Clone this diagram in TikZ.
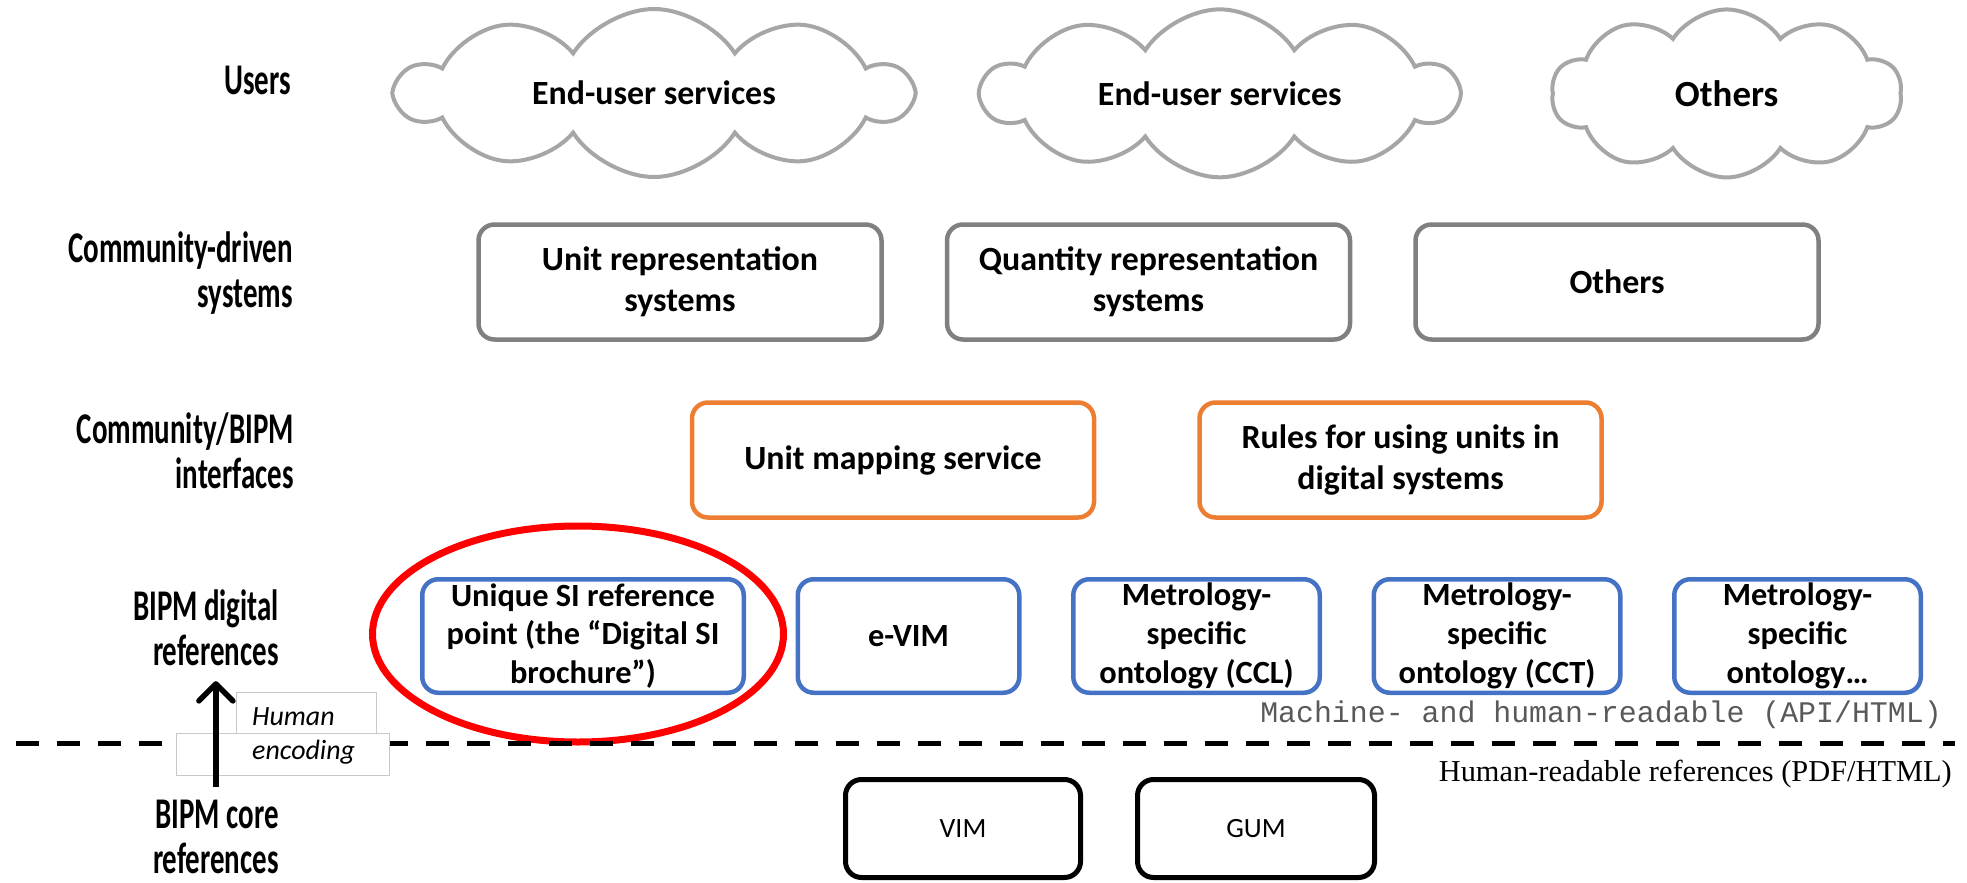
\documentclass[tikz,border=0pt]{standalone}
\usepackage{fontspec}
\setmainfont{Carlito}
\newfontfamily\tierfont[FakeStretch=0.66]{Carlito}
\newfontfamily\readfont{Liberation Serif}
\newfontfamily\codefont{Liberation Mono}
\usetikzlibrary{shapes.geometric, shapes.symbols, arrows.meta, positioning}

\definecolor{cloudgray}{RGB}{166,166,166}
\definecolor{sysgray}{RGB}{128,128,128}
\definecolor{ifaceorange}{RGB}{237,125,49}
\definecolor{refblue}{RGB}{68,114,196}
\definecolor{notegray}{RGB}{200,200,200}
\definecolor{codegray}{RGB}{89,89,89}

\begin{document}
\begin{tikzpicture}[
    x=1bp, y=-1bp,
    tier/.style={anchor=east, align=right, inner sep=0pt, font=\tierfont\bfseries\fontsize{44}{45}\selectfont},
    userscloud/.style={cloud, cloud puffs=10, cloud puff arc=115, cloud ignores aspect, draw=cloudgray, line width=4bp, minimum height=168bp, font=\bfseries\fontsize{34}{41}\selectfont},
    sysbox/.style={rectangle, rounded corners=16bp, draw=sysgray, line width=4.5bp, minimum width=403bp, minimum height=115bp, align=center, font=\bfseries\fontsize{34}{41.5}\selectfont},
    ifbox/.style={sysbox, draw=ifaceorange, minimum width=402bp},
    refbox/.style={sysbox, draw=refblue, minimum width=246.5bp, minimum height=113.5bp, font=\bfseries\fontsize{32.5}{39}\selectfont},
    corebox/.style={sysbox, draw=black, line width=5bp, minimum width=235bp, minimum height=98bp, font=\fontsize{28}{34}\selectfont},
    ring/.style={ellipse, draw=red, line width=7bp, minimum width=411bp, minimum height=216bp},
    cut/.style={line width=5bp, dash pattern=on 23bp off 18bp},
    notebox/.style={rectangle, draw=notegray, line width=1bp, fill=white},
    arrow/.style={-{Straight Barb[length=17bp, width=34bp, round]}, line width=5.5bp}
]
    \useasboundingbox (0,0) rectangle (1967,883);

    % tier labels
    \node[tier] (users) at (291,80) {Users};
    \node[tier] (community) at (293,273) {Community-driven\\systems};
    \node[tier] (interface) at (294,451) {Community/BIPM\\interfaces};
    \node[tier] (digital) at (279,628) {BIPM digital\\references};
    \node[tier] (core) at (279,837) {BIPM core\\references};

    % users
    \node[userscloud, minimum width=512bp] (serviceA) at (654,93) {End-user services};
    \node[userscloud, minimum width=474bp, right=59bp of serviceA] (serviceB) {End-user services};
    \node[userscloud, minimum width=350bp, right=88bp of serviceB, font=\bfseries\fontsize{37}{44}\selectfont] (userother) {Others};

    % community-driven systems
    \node[sysbox] (unitrep) at (680,282) {Unit representation\\systems};
    \node[sysbox, right=61bp of unitrep] (quantrep) {Quantity representation\\systems};
    \node[sysbox, right=61bp of quantrep] (sysother) {Others};

    % interfaces
    \node[ifbox] (mapping) at (893,460) {Unit mapping service};
    \node[ifbox, right=101bp of mapping] (rules) {Rules for using units in\\digital systems};

    % digital references
    \node[refbox, minimum width=321.5bp] (uniqueSI) at (583,636) {Unique SI reference\\point (the “Digital SI\\brochure”)};
    \node[refbox, minimum width=221.5bp, right=49.5bp of uniqueSI] (evim) {e-VIM};
    \node[refbox, right=49.5bp of evim] (ccl) {Metrology-\\specific\\ontology (CCL)};
    \node[refbox, right=49.5bp of ccl] (cct) {Metrology-\\specific\\ontology (CCT)};
    \node[refbox, right=49.5bp of cct] (ontmore) {Metrology-\\specific\\ontology…};
    \node[ring] (highlight) at (578,634) {};

    % split line
    \coordinate (cutL) at (16,743);
    \coordinate (cutR) at (1955,743);
    \draw[cut] (cutL) -- (cutR);
    \node[anchor=base east, inner sep=0pt, text=codegray, font=\codefont\fontsize{30}{36}\selectfont] (machine) at (1942,722) {Machine- and human-readable (API/HTML)};
    \node[anchor=base east, inner sep=0pt, font=\readfont\fontsize{30.5}{36}\selectfont] (human) at (1952,781) {Human-readable references (PDF/HTML)};

    % core references
    \node[corebox] (vim) at (963,828.5) {VIM};
    \node[corebox, minimum width=237bp, right=52bp of vim] (gum) {GUM};

    % encoding note
    \node[notebox, minimum width=140bp, minimum height=41bp] (noteup) at (306,712.5) {};
    \node[notebox, minimum width=213bp, minimum height=42bp] (notelow) at (282.5,754) {};
    \node[anchor=base west, inner sep=0pt, font=\itshape\fontsize{28}{34}\selectfont] (encA) at (252,725) {Human};
    \node[anchor=base west, inner sep=0pt, font=\itshape\fontsize{28}{34}\selectfont] (encB) at (252,759) {encoding};
    \draw[arrow, shorten <=13bp, shorten >=15bp] (core.north) -- (core.north |- digital.south);
\end{tikzpicture}
\end{document}
